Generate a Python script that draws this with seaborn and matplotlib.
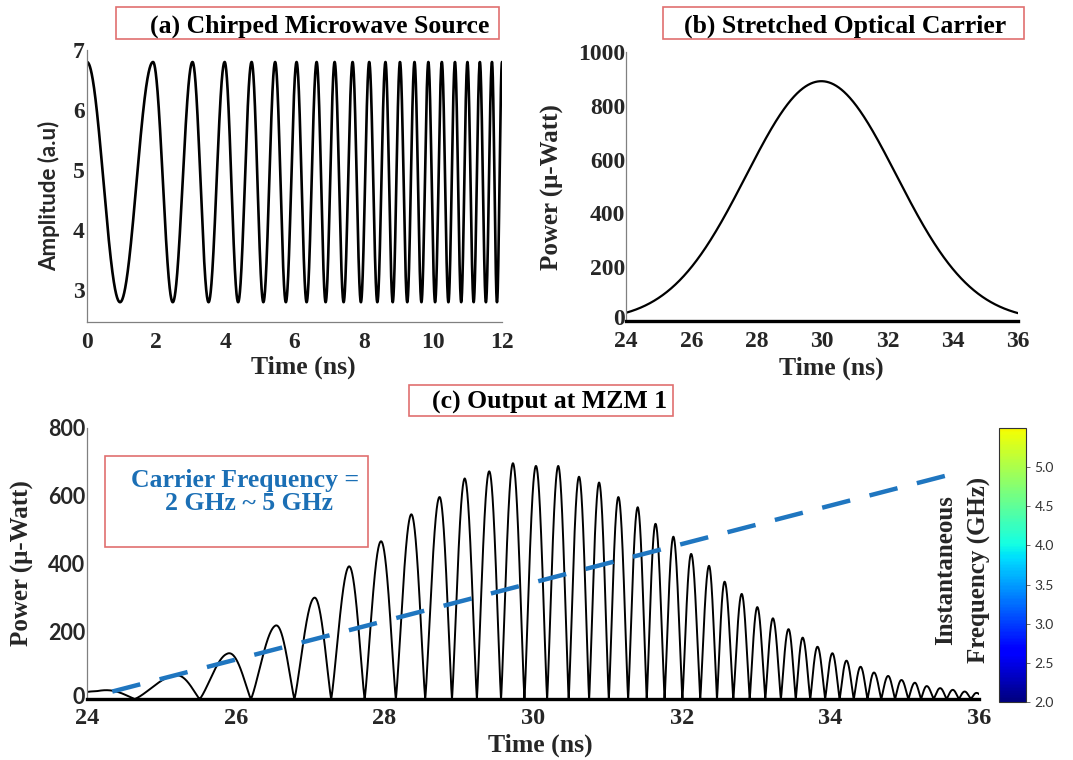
import numpy as np
import pandas as pd
import matplotlib
matplotlib.use("Agg")
import matplotlib.pyplot as plt
from matplotlib.patches import Rectangle
from matplotlib.colors import LinearSegmentedColormap, Normalize
from matplotlib.cm import ScalarMappable
from matplotlib.transforms import ScaledTranslation
import seaborn as sns

# ---------------- data ----------------
# (a) chirped microwave source: crest times (ns) and swing limits
src_crest_t = [0.0, 1.91, 3.05, 3.98, 4.76, 5.44, 6.06, 6.64, 7.16, 7.68, 8.16,
               8.63, 9.05, 9.47, 9.87, 10.26, 10.64, 11.00, 11.36, 11.71, 12.0]
src_max = 6.8
src_min = 2.8

# (b) stretched optical carrier, power sampled every ns
car_t = [24, 25, 26, 27, 28, 29, 30, 31, 32, 33, 34, 35, 36]
car_p = [30, 88, 203, 386, 610, 802, 880, 800, 605, 382, 198, 86, 28]

# (c) output at MZM 1: crest times (ns) and crest powers (uW)
out_crest_t = [24.13, 25.15, 25.88, 26.53, 27.05, 27.52, 27.95, 28.36, 28.74, 29.08,
               29.41, 29.73, 30.04, 30.34, 30.62, 30.89, 31.15, 31.41, 31.65, 31.89,
               32.13, 32.37, 32.58, 32.81, 33.02, 33.23, 33.44, 33.63, 33.83, 34.03,
               34.22, 34.41, 34.59, 34.78, 34.96, 35.14, 35.30, 35.48, 35.65, 35.81,
               35.97]
out_crest_p = [23, 68, 133, 216, 298, 391, 465, 545, 596, 651,
               672, 696, 688, 688, 656, 639, 596, 566, 517, 479,
               428, 393, 346, 310, 271, 238, 206, 181, 154, 135,
               113, 95, 78, 68, 56, 48, 38, 32, 27, 22,
               18]

# carrier-frequency trend (2 GHz -> 5 GHz)
trend_t = [24.34, 35.55]
trend_p = [22, 659]

cbar_lo, cbar_hi = 2.0, 5.5
cbar_ticks = [2.0, 2.5, 3.0, 3.5, 4.0, 4.5, 5.0]

titles = ["(a) Chirped Microwave Source", "(b) Stretched Optical Carrier", "(c) Output at MZM 1"]


def crest_phase(t, crest_t):
    """Phase that advances 2*pi between consecutive crests."""
    ct = np.asarray(crest_t, float)
    ct = np.concatenate([[2 * ct[0] - ct[1]], ct, [2 * ct[-1] - ct[-2]]])
    n = np.arange(-1, len(crest_t) + 1)
    return 2 * np.pi * np.interp(t, ct, n)


# ---------------- style ----------------
sns.set_theme(style="white")
plt.rcParams["font.family"] = ["Liberation Serif", "DejaVu Serif"]
plt.rcParams["font.weight"] = "bold"
plt.rcParams["axes.labelweight"] = "bold"

W, H = 1073, 760
fig = plt.figure(figsize=(W / 100, H / 100), dpi=100)
fig.patch.set_facecolor("white")


def fx(px):
    return px / W


def fy(py):
    return 1 - py / H


def add_axes(l, t, r, b):
    return fig.add_axes([fx(l), fy(b), (r - l) / W, (b - t) / H])


SERIF = "Liberation Serif"
SANS = "Lato"
GRAY = "#808080"
BOX = "#e07070"


def style_axes(ax, bottom_black):
    sns.despine(ax=ax, top=True, right=True)
    ax.set_facecolor("white")
    ax.spines["left"].set_color(GRAY)
    ax.spines["left"].set_linewidth(0.9)
    if bottom_black:
        ax.spines["bottom"].set_color("black")
        ax.spines["bottom"].set_linewidth(2.4)
    else:
        ax.spines["bottom"].set_color(GRAY)
        ax.spines["bottom"].set_linewidth(0.9)
    ax.tick_params(direction="in", length=4, width=0.8, color=GRAY)
    ax.grid(False)


def lift_zero_label(ax, px):
    # nudge the "0" y tick label upward so it clears the first x tick label
    lab = ax.get_yticklabels()[0]
    lab.set_transform(lab.get_transform() + ScaledTranslation(0, px / 100, fig.dpi_scale_trans))


# ---------------- (a) ----------------
axa = add_axes(87, 50, 502, 322)
ta = np.linspace(0, 12, 5000)
mid, amp = (src_max + src_min) / 2, (src_max - src_min) / 2
ya = mid + amp * np.cos(crest_phase(ta, src_crest_t))
sns.lineplot(x=ta, y=ya, ax=axa, color="black", lw=1.9, estimator=None)
axa.set_xlim(0, 12)
axa.set_ylim(2.47, 7.0)
axa.set_xticks(range(0, 13, 2))
axa.set_yticks([3, 4, 5, 6, 7])
style_axes(axa, False)
axa.tick_params(axis="x", pad=7.5)
axa.tick_params(axis="y", pad=1.5)
for lab in axa.get_xticklabels() + axa.get_yticklabels():
    lab.set_fontfamily(SERIF); lab.set_fontweight("bold"); lab.set_fontsize(17)
axa.set_xlabel("Time (ns)", fontsize=18.5, fontfamily=SERIF, fontweight="bold")
axa.set_ylabel("Amplitude (a.u)", fontsize=16, fontfamily=SANS, fontweight="bold")
axa.xaxis.set_label_coords((303 - 87) / 415, (322 - 367) / 272)
axa.xaxis.label.set_va("center")
axa.yaxis.set_label_coords((49 - 87) / 415, (322 - 196) / 272)
axa.yaxis.label.set_va("center")

# ---------------- (b) ----------------
axb = add_axes(626, 52, 1018, 321)
tb = np.linspace(24, 36, 1200)
coef = np.polyfit(car_t, np.log(car_p), 2)
pb = np.exp(np.polyval(coef, tb))
sns.lineplot(x=tb, y=pb, ax=axb, color="black", lw=1.6, estimator=None)
axb.set_xlim(24, 36)
axb.set_ylim(0, 1000)
axb.set_xticks(range(24, 37, 2))
axb.set_yticks(range(0, 1001, 200))
style_axes(axb, True)
axb.tick_params(axis="x", pad=7.5)
axb.tick_params(axis="y", pad=0.5)
for lab in axb.get_xticklabels() + axb.get_yticklabels():
    lab.set_fontfamily(SERIF); lab.set_fontweight("bold"); lab.set_fontsize(17)
lift_zero_label(axb, 4)
axb.set_xlabel("Time (ns)", fontsize=18.5, fontfamily=SERIF, fontweight="bold")
axb.set_ylabel("Power (\u03bc-Watt)", fontsize=18, fontfamily=SERIF, fontweight="bold")
axb.xaxis.set_label_coords((831 - 626) / 392, (321 - 368) / 269)
axb.xaxis.label.set_va("center")
axb.yaxis.set_label_coords((552 - 626) / 392, (321 - 187) / 269)
axb.yaxis.label.set_va("center")

# ---------------- (c) ----------------
axc = add_axes(87, 428, 979, 699)
tc = np.linspace(24, 36, 8000)
env = np.interp(tc, out_crest_t, out_crest_p)
pc = env * np.abs(np.cos(crest_phase(tc, out_crest_t) / 2)) ** 1.2
sns.lineplot(x=tc, y=pc, ax=axc, color="black", lw=1.4, estimator=None)
sns.lineplot(x=trend_t, y=trend_p, ax=axc, color="#1f76c0", lw=3.2,
             linestyle=(0, (6.5, 4.5)), estimator=None)
axc.set_xlim(24, 36)
axc.set_ylim(0, 800)
axc.set_xticks(range(24, 37, 2))
axc.set_yticks(range(0, 801, 200))
style_axes(axc, True)
axc.tick_params(axis="x", pad=6.5)
axc.tick_params(axis="y", pad=1.5)
for lab in axc.get_xticklabels():
    lab.set_fontfamily(SERIF); lab.set_fontweight("bold"); lab.set_fontsize(17.5)
for lab in axc.get_yticklabels():
    lab.set_fontfamily(SANS); lab.set_fontweight("bold"); lab.set_fontsize(15.5)
lift_zero_label(axc, 4)
axc.set_xlabel("Time (ns)", fontsize=18.5, fontfamily=SERIF, fontweight="bold")
axc.set_ylabel("Power (\u03bc-Watt)", fontsize=18, fontfamily=SERIF, fontweight="bold")
axc.xaxis.set_label_coords((540 - 87) / 892, (699 - 745) / 271)
axc.xaxis.label.set_va("center")
axc.yaxis.set_label_coords((22.5 - 87) / 892, (699 - 563.5) / 271)
axc.yaxis.label.set_va("center")

# colour bar for instantaneous frequency
jet = plt.get_cmap("jet")
freq_cmap = LinearSegmentedColormap.from_list("freq", jet(np.linspace(0, 0.65, 256)))
cax = add_axes(999, 428, 1026, 702)
cb = fig.colorbar(ScalarMappable(norm=Normalize(cbar_lo, cbar_hi), cmap=freq_cmap), cax=cax)
cb.set_ticks(cbar_ticks)
cb.set_ticklabels([f"{v:.1f}" for v in cbar_ticks])
cb.outline.set_edgecolor("#333333")
cb.outline.set_linewidth(0.8)
cax.tick_params(direction="out", length=3, width=0.6, color="#555555", pad=3)
for lab in cax.get_yticklabels():
    lab.set_fontfamily(SANS); lab.set_fontweight("normal"); lab.set_fontsize(10); lab.set_color("#333333")
fig.text(fx(946), fy(570), "Instantaneous", rotation=90, ha="center", va="center",
         fontsize=18, fontweight="bold", fontfamily=SERIF)
fig.text(fx(979), fy(570), "Frequency (GHz)", rotation=90, ha="center", va="center",
         fontsize=18, fontweight="bold", fontfamily=SERIF)

# ---------------- framed captions ----------------
def framed(box, text_xy, text, color="black"):
    l, t, r, b = box
    fig.add_artist(Rectangle((fx(l), fy(b)), (r - l) / W, (b - t) / H, transform=fig.transFigure,
                             fill=False, edgecolor=BOX, lw=1.2))
    if text is not None:
        fig.text(fx(text_xy[0]), fy(text_xy[1]), text, ha="center", va="center",
                 fontsize=18.5, fontweight="bold", fontfamily=SERIF, color=color)


framed((116, 7, 499, 39), (319.5, 26), titles[0])
framed((663, 7, 1024, 39), (845, 26), titles[1])
framed((409, 385, 673, 416), (550, 402), titles[2])
framed((105, 456, 368, 547), (245, 480), "Carrier Frequency =", color="#1b6fb5")
fig.text(fx(249), fy(504), "2 GHz ~ 5 GHz", ha="center", va="center",
         fontsize=18.5, fontweight="bold", fontfamily=SERIF, color="#1b6fb5")

fig.savefig("out.png", dpi=100, facecolor="white")
